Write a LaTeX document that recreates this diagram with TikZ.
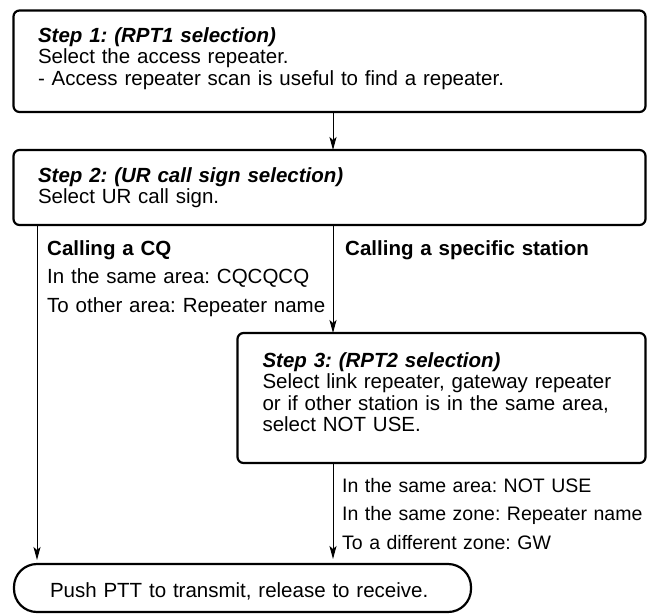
\documentclass[tikz,border=0pt]{standalone}
\usepackage{fontspec}
\setmainfont{Liberation Sans}
\usepackage{tikz}
\usetikzlibrary{positioning,arrows.meta,calc}
\tikzstyle{arrow} = [line width=1pt,-{Stealth[length=13pt,width=7pt,inset=3pt]}]
\frenchspacing

\begin{document}
\begin{tikzpicture}[
    font=\fontsize{20.5}{21.5}\selectfont,
    stepbox/.style={
        draw,
        rounded corners=6pt,
        line width=2.2pt,
        outer sep=0pt,
        inner ysep=0pt,
        align=left
    },
    wideblock/.style={stepbox, text width=583pt, inner xsep=24.5pt},
    endbox/.style={stepbox, rounded corners=23pt},
    listnode/.style={anchor=base west, align=left, inner sep=0pt,
                     text width=330pt, font=\fontsize{20.5}{28.5}\selectfont}
]
\useasboundingbox (0,0) rectangle (647pt,-614pt);

\node[wideblock, text height=31.5pt, text depth=70pt, anchor=north west]
    (step1) at (13.5pt,-10.5pt)
    {\textbf{\textit{Step 1: (RPT1 selection)}}\\
     Select the access repeater.\\
     - Access repeater scan is useful to find a repeater.};
\node[wideblock, text height=32pt, text depth=43pt, below=38pt of step1] (step2)
    {\textbf{\textit{Step 2: (UR call sign selection)}}\\
     Select UR call sign.};
\node[stepbox, text width=358pt, inner xsep=25pt, text height=34pt, text depth=96pt,
      below=108pt of step2.south east, anchor=north east] (step3)
    {\textbf{\textit{Step 3: (RPT2 selection)}}\\
     Select link repeater, gateway repeater\\
     or if other station is in the same area,\\
     select NOT USE.};
\node[endbox, text width=385pt, inner xsep=36pt, text height=33pt, text depth=15pt,
      anchor=north west] (ptt) at ($(step3.south -| step2.west)+(0.5pt,-101pt)$)
    {Push PTT to transmit, release to receive.};

\coordinate (mid) at ([xshift=3.5pt]step1.south);
\coordinate (side) at ([xshift=23.5pt]step2.south west);

\draw[arrow] (step1.south -| mid) -- (step2.north -| mid);
\draw[arrow] (step2.south -| mid) -- (step3.north -| mid);
\draw[arrow, shorten >=5pt] (step3.south -| mid) -- (ptt.north -| mid);
\draw[arrow, shorten >=4pt] (side) -- (ptt.north -| side);

\node[listnode] (cqlist) at ([xshift=10pt,yshift=-30pt]side)
    {\textbf{Calling a CQ}\\
     In the same area: CQCQCQ\\
     To other area: Repeater name};
\node[listnode] (specific) at ([xshift=12pt,yshift=-30pt]mid |- step2.south)
    {\textbf{Calling a specific station}};
% this list runs right up to the edge
\node[listnode, font=\fontsize{19.5}{28.5}\selectfont] (rptlist)
    at ([xshift=9pt,yshift=-29pt]mid |- step3.south)
    {In the same area: NOT USE\\
     In the same zone: Repeater name\\
     To a different zone: GW};

\end{tikzpicture}
\end{document}
